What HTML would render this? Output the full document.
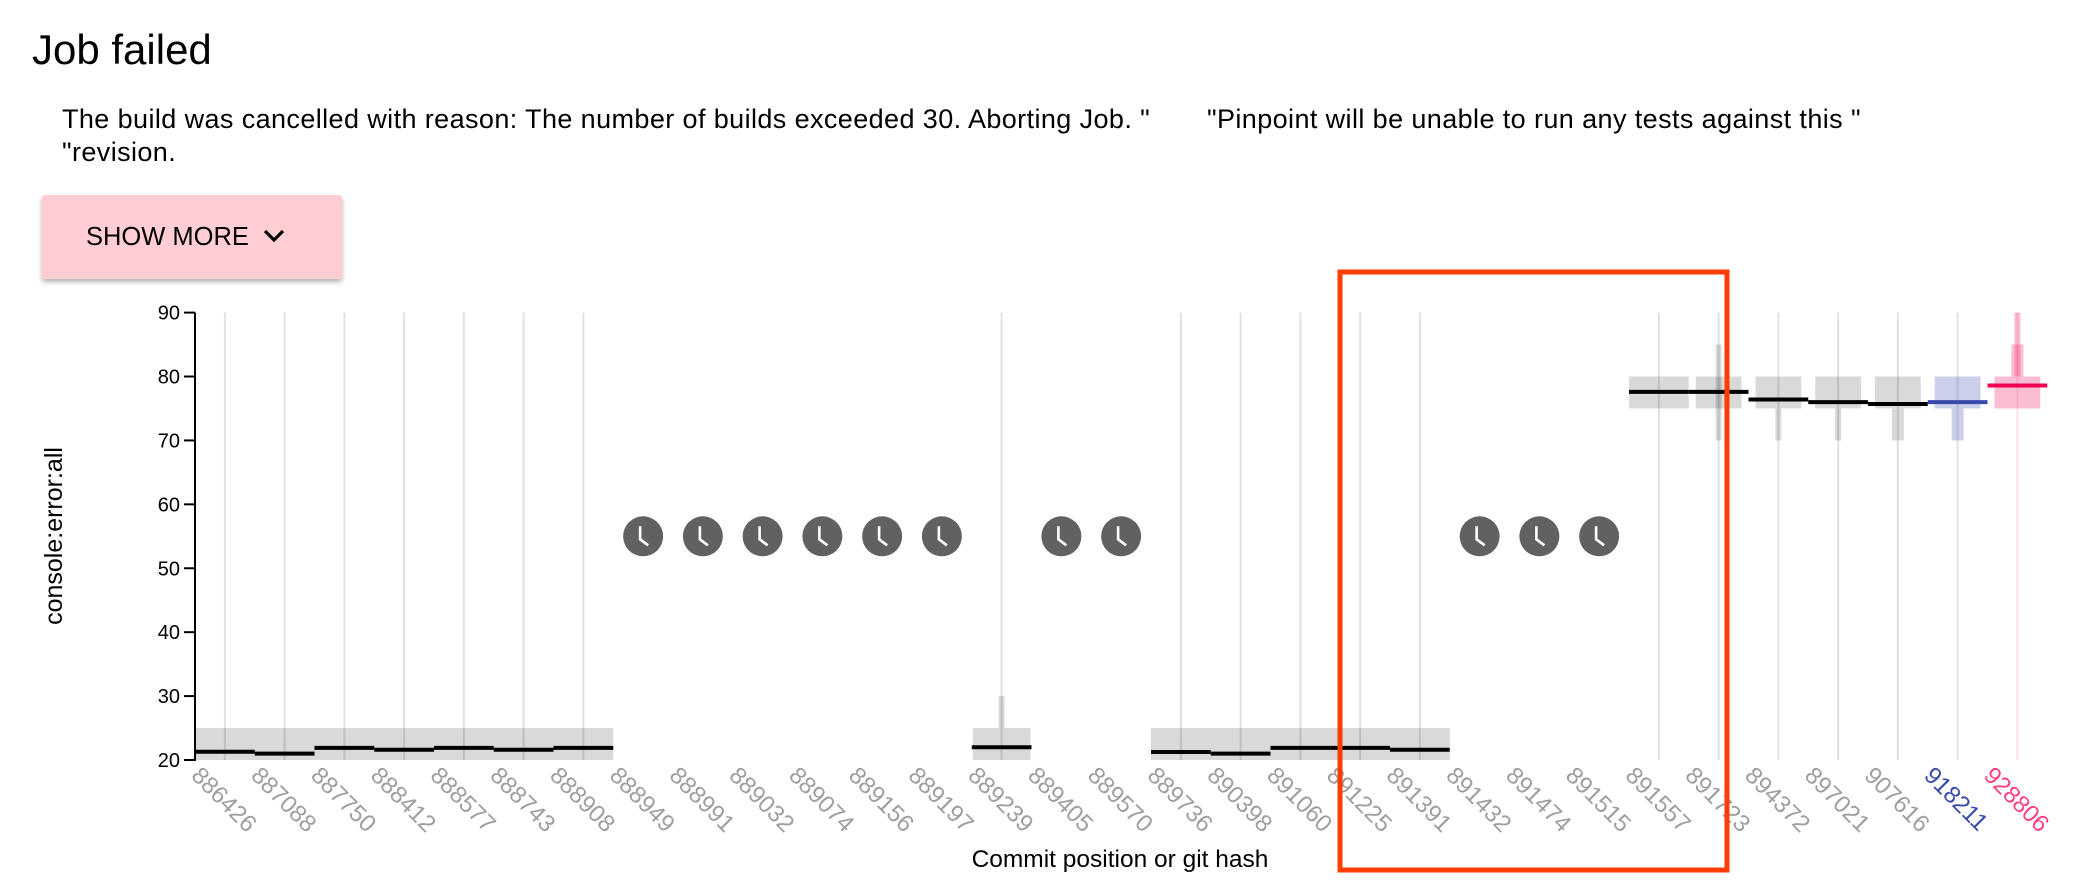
<!DOCTYPE html>
<html>
<head>
<meta charset="utf-8">
<style>
  html, body { margin:0; padding:0; background:#fff; }
  body { width:2076px; height:896px; position:relative; overflow:hidden; font-family:"Liberation Sans", sans-serif; color:#000; }
  .abs { position:absolute; white-space:nowrap; }
  #title { left:32px; top:26px; font-size:42px; }
  .msg { font-size:27px; letter-spacing:0.4px; }
  #btn { left:42px; top:195px; width:300px; height:84px; background:#ffcdd2; border-radius:3px;
         box-shadow:0 3px 5px rgba(0,0,0,0.3); font-size:25.5px; }
  #btn span { position:absolute; left:44px; top:28px; }
</style>
</head>
<body>
<div class="abs" id="title">Job failed</div>
<div class="abs msg" style="left:62px;top:104px;">The build was cancelled with reason: The number of builds exceeded 30. Aborting Job. "</div>
<div class="abs msg" style="left:1207px;top:104px;">"Pinpoint will be unable to run any tests against this "</div>
<div class="abs msg" style="left:62px;top:137px;">"revision.</div>
<div class="abs" id="btn"><span>SHOW MORE</span>
  <svg style="position:absolute;left:220px;top:32px" width="24" height="18"><polyline points="3,4 12,13 21,4" fill="none" stroke="#000" stroke-width="3.2"/></svg>
</div>

<svg id="chart" width="2076" height="896" style="position:absolute;left:0;top:0"></svg>

<script>
const labels = ["886426","887088","887750","888412","888577","888743","888908","888949","888991","889032","889074","889156","889197","889239","889405","889570","889736","890398","891060","891225","891391","891432","891474","891515","891557","891723","894372","897021","907616","918211","928806"];
const medians = [21.3,21.0,21.9,21.6,21.9,21.6,21.9,null,null,null,null,null,null,22.0,null,null,21.25,21.0,21.9,21.9,21.6,null,null,null,77.6,77.6,76.4,76.0,75.7,76.0,78.6];
const boxLo = [20,20,20,20,20,20,20,null,null,null,null,null,null,20,null,null,20,20,20,20,20,null,null,null,75,75,75,75,75,75,75];
const boxHi = [25,25,25,25,25,25,25,null,null,null,null,null,null,25,null,null,25,25,25,25,25,null,null,null,80,80,80,80,80,80,80];
const thinLo = [null,null,null,null,null,null,null,null,null,null,null,null,null,25,null,null,null,null,null,null,null,null,null,null,null,70,70,70,null,null,80];
const thinHi = [null,null,null,null,null,null,null,null,null,null,null,null,null,30,null,null,null,null,null,null,null,null,null,null,null,85,75,75,null,null,90];
const wideLo = [null,null,null,null,null,null,null,null,null,null,null,null,null,null,null,null,null,null,null,null,null,null,null,null,null,null,null,null,70,70,80];
const wideHi = [null,null,null,null,null,null,null,null,null,null,null,null,null,null,null,null,null,null,null,null,null,null,null,null,null,null,null,null,75,75,85];
const pending = [7,8,9,10,11,12,14,15,21,22,23];
const pendingValue = 55;
const yTicks = [20,30,40,50,60,70,80,90];
const yDomain = [20,90];

const svg = document.getElementById('chart');
const NS = 'http://www.w3.org/2000/svg';
const X0 = 195, BW = 59.75, YTOP = 312.6, YBOT = 760;
function xLeft(i){ return X0 + i*BW; }
function xMid(i){ return X0 + (i+0.5)*BW; }
function y(v){ return YBOT - (v - yDomain[0])/(yDomain[1]-yDomain[0])*(YBOT-YTOP); }
function mk(tag, attrs, parent){ const e=document.createElementNS(NS,tag); for(const k in attrs) e.setAttribute(k, attrs[k]); (parent||svg).appendChild(e); return e; }
function colorFor(i){ return i===29 ? 'blue' : (i===30 ? 'pink' : 'gray'); }
const fills = {gray:'rgba(0,0,0,0.15)', blue:'rgba(63,81,181,0.28)', pink:'rgba(244,67,130,0.35)'};
const medCol = {gray:'#000', blue:'#3949ab', pink:'#f50057'};

labels.forEach((l,i)=>{
  if (medians[i]===null) return;
  const g = mk('line',{x1:xMid(i),x2:xMid(i),y1:YTOP,y2:YBOT,stroke:i===30?'#fbe0ea':'#e0e0e0','stroke-width':2});
  
  
});

labels.forEach((l,i)=>{
  if (boxLo[i]===null) return;
  const c = colorFor(i);
  const inset = i>=25 ? 7 : (i===13 ? 1 : 0);
  const b = mk('rect',{x:xLeft(i)+inset,y:y(boxHi[i]),width:BW-2*inset,height:y(boxLo[i])-y(boxHi[i]),fill:fills[c]});
  
  
  if (thinLo[i]!==null){
    const w = mk('rect',{x:xMid(i)-3,y:y(thinHi[i]),width:6,height:y(thinLo[i])-y(thinHi[i]),fill:fills[c]});
    
    
  }
  if (wideLo[i]!==null){
    const w = mk('rect',{x:xMid(i)-6,y:y(wideHi[i]),width:12,height:y(wideLo[i])-y(wideHi[i]),fill:fills[c]});
    
    
  }
});
labels.forEach((l,i)=>{
  if (medians[i]===null) return;
  const c = colorFor(i);
  const m = mk('line',{x1:xLeft(i),x2:xLeft(i)+BW,y1:y(medians[i]),y2:y(medians[i]),stroke:medCol[c],'stroke-width':4});
  
  
});

pending.forEach(i=>{
  const g = mk('g',{transform:`translate(${xMid(i)},${y(pendingValue)})`});
  
  
  mk('circle',{r:20,fill:'#616161'},g);
  mk('polyline',{points:'-3,-10 -3,3 5,9',fill:'none',stroke:'#fff','stroke-width':2.6},g);
});

const ax = mk('g',{});


mk('line',{x1:X0,x2:X0,y1:YTOP,y2:YBOT+1,stroke:'#000','stroke-width':2},ax);
yTicks.forEach(t=>{
  mk('line',{x1:X0-11,x2:X0,y1:y(t),y2:y(t),stroke:'#000','stroke-width':2},ax);
  const tx = mk('text',{x:X0-15,y:y(t)+7,'text-anchor':'end','font-size':20,'font-family':'Liberation Sans, sans-serif',fill:'#000'},ax);
  tx.textContent = t;
  
  
});
const yt = mk('text',{transform:'translate(62,536) rotate(-90)','text-anchor':'middle','font-size':25,'font-family':'Liberation Sans, sans-serif',fill:'#000'});
yt.textContent = 'console:error:all';



labels.forEach((l,i)=>{
  const col = i===29 ? '#3949ab' : (i===30 ? '#ff4081' : '#9e9e9e');
  const t = mk('text',{transform:`translate(${xLeft(i)+7},${YBOT+5}) rotate(45)`,'font-size':24,'font-family':'Liberation Sans, sans-serif',fill:col,'dominant-baseline':'hanging'});
  t.textContent = l;
  
  
});
const xt = mk('text',{x:1120,y:867,'text-anchor':'middle','font-size':24.5,'font-family':'Liberation Sans, sans-serif',fill:'#000'});
xt.textContent = 'Commit position or git hash';



const hl = mk('rect',{x:1340,y:272,width:387,height:598,fill:'none',stroke:'#ff3d00','stroke-width':5});


</script>
</body>
</html>
